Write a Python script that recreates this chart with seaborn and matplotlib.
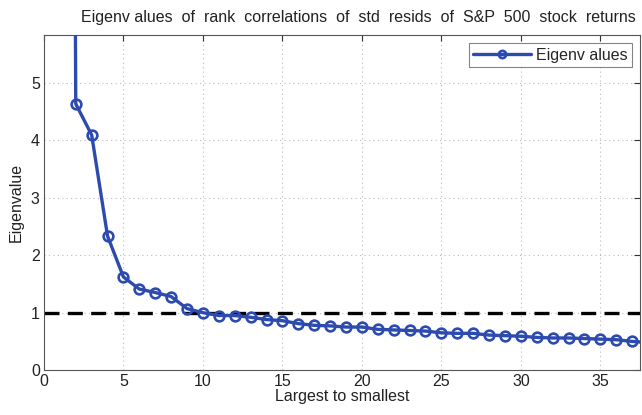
import matplotlib
matplotlib.use("Agg")
import matplotlib.pyplot as plt
import seaborn as sns
import pandas as pd
import numpy as np

# Data
rank = list(range(1, 39))
eigenvalues = [60.0, 4.63, 4.09, 2.33, 1.62, 1.41, 1.35, 1.28, 1.07, 1.00,
               0.95, 0.95, 0.92, 0.88, 0.86, 0.81, 0.78, 0.77, 0.75, 0.75,
               0.71, 0.70, 0.69, 0.68, 0.65, 0.64, 0.64, 0.61, 0.60, 0.59,
               0.57, 0.56, 0.56, 0.55, 0.54, 0.53, 0.50, 0.48]
threshold = 1.0
xticks = [0, 5, 10, 15, 20, 25, 30, 35]
yticks = [0, 1, 2, 3, 4, 5]

df = pd.DataFrame({"rank": rank, "eig": eigenvalues})

sns.set_theme(style="white")
plt.rcParams['font.family'] = ['Liberation Sans', 'DejaVu Sans']

fig = plt.figure(figsize=(6.42, 4.15), dpi=100)
ax = fig.add_axes([0.0685, 0.108, 0.9285, 0.808])

blue = "#2D4BAF"
ax.axhline(threshold, color="black", lw=2.4, ls=(0, (4.5, 2.5)), zorder=2)
sns.lineplot(data=df, x="rank", y="eig", ax=ax, color=blue, lw=2.4,
             marker="o", markersize=7, markerfacecolor="none",
             markeredgecolor=blue, markeredgewidth=1.9, label="Eigenv alues",
             zorder=3)

ax.set_xlim(0, 37.5)
ax.set_ylim(0, 5.83)
ax.set_xticks(xticks)
ax.set_yticks(yticks)
ax.grid(True, ls=(0, (1, 3)), color="#bbbbbb", lw=0.8)
ax.tick_params(direction="in", length=4, width=0.8, colors="#333333",
               labelsize=11.5, top=True, right=True, pad=3,
               labelcolor="#222222")
for s in ax.spines.values():
    s.set_color("#555555")
    s.set_linewidth(0.8)

ax.set_xlabel("Largest to smallest", fontsize=11.5, color="#222222", labelpad=0)
ax.set_ylabel("Eigenvalue", fontsize=11.5, color="#222222", labelpad=5)
ax.set_title("Eigenv alues  of  rank  correlations  of  std  resids  of  S&P  500  stock  returns",
             fontsize=11.5, color="#222222", pad=9, x=0.527)

leg = ax.legend(loc="upper right", fontsize=11.5, frameon=True, fancybox=False,
                borderpad=0.3, handlelength=3.6, handletextpad=0.3,
                borderaxespad=0.5, markerscale=0.75)
leg.get_frame().set_edgecolor("#666666")
leg.get_frame().set_linewidth(0.8)

fig.savefig("out.png", dpi=100)
